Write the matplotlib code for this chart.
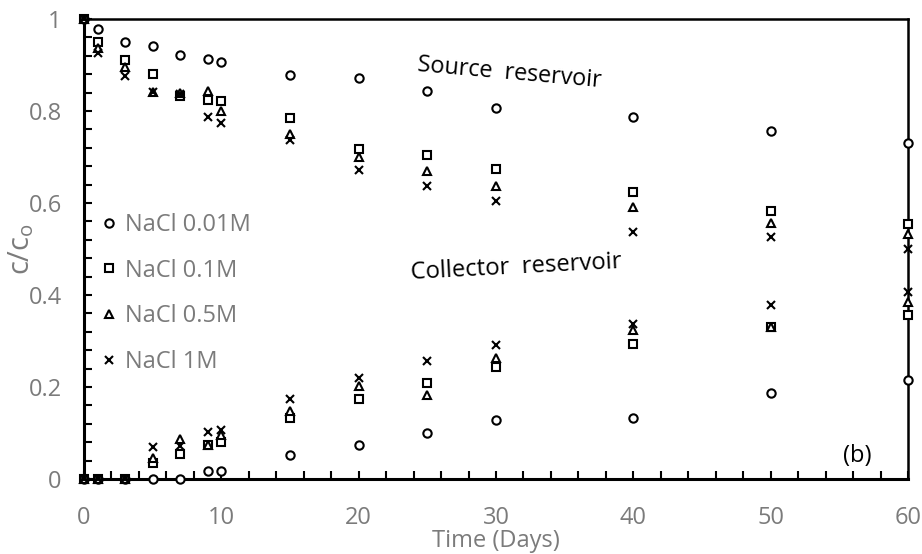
import matplotlib
matplotlib.use("Agg")
import matplotlib.pyplot as plt
from matplotlib.ticker import MultipleLocator

days = [0, 1, 3, 5, 7, 9, 10, 15, 20, 25, 30, 40, 50, 60]

# Source reservoir
src_001 = [1.0, 0.978, 0.949, 0.941, 0.922, 0.914, 0.906, 0.879, 0.871, 0.844, 0.806, 0.786, 0.757, 0.731]
src_01 = [1.0, 0.949, 0.911, 0.880, 0.833, 0.825, 0.822, 0.785, 0.717, 0.704, 0.675, 0.624, 0.583, 0.554]
src_05 = [1.0, 0.938, 0.896, 0.842, 0.840, 0.844, 0.801, 0.750, 0.701, 0.670, 0.637, 0.591, 0.557, 0.533]
src_1 = [1.0, 0.927, 0.876, 0.842, 0.838, 0.786, 0.773, 0.738, 0.672, 0.637, 0.604, 0.538, 0.527, 0.499]

# Collector reservoir
col_001 = [0.0, 0.0, 0.0, 0.0, 0.0, 0.018, 0.018, 0.052, 0.074, 0.099, 0.128, 0.132, 0.188, 0.215]
col_01 = [0.0, 0.0, 0.0, 0.034, 0.054, 0.074, 0.081, 0.132, 0.174, 0.209, 0.244, 0.293, 0.330, 0.357]
col_05 = [0.0, 0.0, 0.0, 0.045, 0.088, 0.074, 0.096, 0.148, 0.202, 0.183, 0.262, 0.324, 0.330, 0.385]
col_1 = [0.0, 0.0, 0.0, 0.070, 0.072, 0.103, 0.106, 0.174, 0.219, 0.257, 0.291, 0.338, 0.378, 0.407]

labels = ["NaCl 0.01M", "NaCl 0.1M", "NaCl 0.5M", "NaCl 1M"]
x_ticks = [0, 10, 20, 30, 40, 50, 60]
y_ticks = [0, 0.2, 0.4, 0.6, 0.8, 1]
y_ticklabels = ["0", "0.2", "0.4", "0.6", "0.8", "1"]

FONT = ["Open Sans", "DejaVu Sans"]
plt.rcParams['font.family'] = FONT
GRAY = "#7b7b7b"

fig = plt.figure(figsize=(9.22, 5.54), dpi=100)
ax = fig.add_axes([84 / 922, 75 / 554, 824 / 922, 460 / 554])

styles = [
    dict(marker='o', ms=6, mfc='white', mec='black', mew=1.5, ls='none'),
    dict(marker='s', ms=6, mfc='white', mec='black', mew=1.5, ls='none'),
    dict(marker='^', ms=6, mfc='white', mec='black', mew=1.5, ls='none'),
    dict(marker='x', ms=5.5, mfc='white', mec='black', mew=1.5, ls='none'),
]

src = [src_001, src_01, src_05, src_1]
col = [col_001, col_01, col_05, col_1]
handles = []
for s, c, st, lab in zip(src, col, styles, labels):
    h, = ax.plot(days, s, clip_on=False, zorder=3, label=lab, **st)
    ax.plot(days, c, clip_on=False, zorder=3, **st)
    handles.append(h)

ax.set_xlim(0, 60)
ax.set_ylim(0, 1)
ax.set_xticks(x_ticks)
ax.xaxis.set_minor_locator(MultipleLocator(2))
ax.set_yticks(y_ticks)
ax.set_yticklabels(y_ticklabels)
ax.yaxis.set_minor_locator(MultipleLocator(0.04))
ax.tick_params(axis='both', which='both', direction='in', length=6, width=1.5,
               colors='black', labelcolor=GRAY, labelsize=17)
ax.tick_params(axis='x', which='both', top=False, pad=19.5)
ax.tick_params(axis='y', which='both', right=False, pad=16)
for sp in ax.spines.values():
    sp.set_linewidth(1.8)
    sp.set_color('black')
ax.spines['left'].set_linewidth(2.2)
ax.spines['bottom'].set_linewidth(2.2)

ax.set_xlabel("Time (Days)", fontsize=17, color=GRAY, va='center')
ax.xaxis.set_label_coords(0.5, (479 - 541) / 460)
ax.set_ylabel("c/c$_\\mathregular{o}$", fontsize=21, color=GRAY, va='center')
ax.yaxis.set_label_coords((21 - 84) / 824, 0.5)

leg = ax.legend(handles=handles, loc='center left', bbox_to_anchor=(0.0, 0.403),
                frameon=False, fontsize=17, labelcolor=GRAY, handlelength=0.5,
                handletextpad=0.43, labelspacing=0.92, borderaxespad=0.4)

ax.text(31.0, 0.883, "Source  reservoir", fontsize=16.8, color='black',
        rotation=-5, ha='center', va='center')
ax.text(31.5, 0.459, "Collector  reservoir", fontsize=17.2, color='black',
        rotation=3, ha='center', va='center')
ax.text(56.3, 0.05, "(b)", fontsize=17, color='black', ha='center', va='center')

fig.savefig("out.png", dpi=100)
